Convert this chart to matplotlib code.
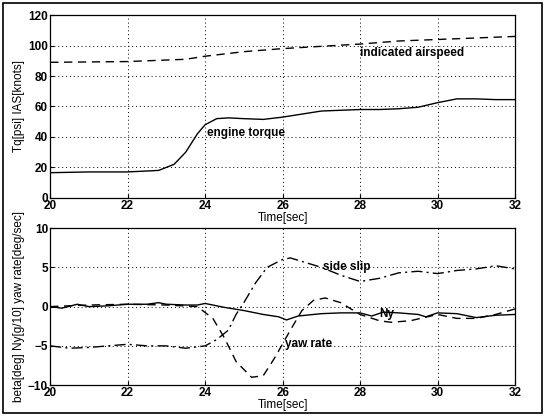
import matplotlib
matplotlib.use("Agg")
import matplotlib.pyplot as plt
from matplotlib.patches import Rectangle

# top panel: engine torque and indicated airspeed
tq_t = [20, 21, 22, 22.8, 23.2, 23.5, 23.8, 24, 24.3, 24.6, 25, 25.5, 26, 26.5,
        27, 27.5, 28, 28.5, 29, 29.5, 30, 30.5, 31, 31.5, 32]
tq = [16.5, 17, 17, 18, 22, 30, 42, 48, 52, 52.5, 52, 51.5, 53, 55,
      57, 57.5, 58, 58, 58.5, 59.5, 62.5, 65, 65, 64.5, 64.5]
ias_t = [20, 22, 23, 23.5, 24, 25, 26, 27, 28, 29, 30, 31, 32]
ias = [89, 89.5, 90.5, 91, 93, 96, 98, 99.5, 101, 103, 104, 105, 106]

# bottom panel: side slip, yaw rate, Ny
beta_t = [20, 20.5, 21, 21.5, 22, 22.5, 23, 23.5, 24, 24.3, 24.6, 24.8, 25, 25.3,
          25.6, 26, 26.2, 26.6, 27, 27.5, 28, 28.5, 29, 29.5, 30, 30.5, 31, 31.5, 32]
beta = [-5, -5.3, -5.2, -5, -4.8, -5, -5, -5.3, -5, -4.2, -3, -1, 0.5, 3,
        5, 6, 6.2, 5.6, 5, 4, 3.2, 3.6, 4.3, 4.5, 4.2, 4.6, 4.8, 5.2, 4.8]
yaw_t = [20, 21, 22, 23, 23.8, 24.2, 24.5, 24.8, 25.2, 25.5, 25.8, 26.2, 26.5,
         26.8, 27.1, 27.5, 28, 28.5, 28.8, 29.3, 30, 30.5, 31, 31.5, 32]
yaw = [0, 0.2, 0.3, 0.2, 0, -1.5, -4, -7, -9, -8.8, -6.5, -3, -0.5,
       0.8, 1.1, 0.5, -1, -1.8, -2, -1.8, -1, -1.5, -1.5, -1, -0.3]
ny_t = [20, 20.3, 20.7, 21, 21.5, 22, 22.5, 22.8, 23, 23.5, 23.8, 24, 24.5, 25,
        25.5, 25.9, 26.1, 26.4, 27, 27.5, 28, 28.3, 28.6, 29, 29.5, 29.7, 30,
        30.5, 31, 31.5, 32]
ny = [0, -0.2, 0.3, 0, 0.1, 0.3, 0.3, 0.5, 0.3, 0.2, 0.2, 0.4, -0.1, -0.5,
      -1, -1.3, -1.7, -1.2, -0.9, -0.8, -0.8, -1.2, -0.7, -0.8, -1, -1.3, -0.8,
      -0.9, -1.4, -1.1, -1]

plt.rcParams['font.family'] = ['Liberation Sans', 'DejaVu Sans']
plt.rcParams['font.size'] = 8.5
plt.rcParams['font.weight'] = 'bold'

fig = plt.figure(figsize=(5.45, 4.2), dpi=100)
fig.patches.append(Rectangle((0.006, 0.017), 0.988, 0.975, transform=fig.transFigure,
                             fill=False, edgecolor='black', linewidth=1.2))

ax1 = fig.add_axes([0.092, 0.529, 0.853, 0.435])
ax1.plot(tq_t, tq, color='black', linewidth=1.0)
ax1.plot(ias_t, ias, color='black', linewidth=1.0, linestyle=(0, (6, 4)))
ax1.set_xlim(20, 32)
ax1.set_ylim(0, 120)
ax1.set_xticks([20, 22, 24, 26, 28, 30, 32])
ax1.set_yticks([0, 20, 40, 60, 80, 100, 120])
ax1.set_xlabel("Time[sec]", labelpad=0)
ax1.set_ylabel("Tq[psi] IAS[knots]", labelpad=2)
ax1.text(28.0, 95, "indicated airspeed", va='center')
ax1.text(24.05, 42.5, "engine torque", va='center')

ax2 = fig.add_axes([0.092, 0.083, 0.853, 0.374])
ax2.plot(ny_t, ny, color='black', linewidth=1.0)
ax2.plot(yaw_t, yaw, color='black', linewidth=1.0, linestyle=(0, (6, 4)))
ax2.plot(beta_t, beta, color='black', linewidth=1.0, linestyle=(0, (8, 3, 1.5, 3)))
ax2.set_xlim(20, 32)
ax2.set_ylim(-10, 10)
ax2.set_xticks([20, 22, 24, 26, 28, 30, 32])
ax2.set_yticks([-10, -5, 0, 5, 10])
ax2.set_xlabel("Time[sec]", labelpad=0)
ax2.set_ylabel("beta[deg] Ny[g/10] yaw rate[deg/sec]", labelpad=2)
ax2.text(27.05, 5.0, "side slip", va='center')
ax2.text(28.5, -0.9, "Ny", va='center')
ax2.text(26.05, -4.8, "yaw rate", va='center')

for ax in (ax1, ax2):
    ax.grid(True, color='black', linestyle=(0, (1, 3)), linewidth=0.7)
    ax.tick_params(direction='in', length=3, pad=1.5)
    for s in ax.spines.values():
        s.set_linewidth(0.9)

fig.savefig("out.png", dpi=100)
